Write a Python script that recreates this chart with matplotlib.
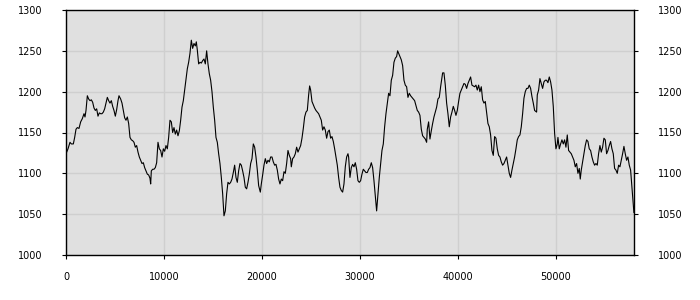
import matplotlib
matplotlib.use("Agg")
import matplotlib.pyplot as plt

# x positions
x = [0, 204, 408, 545, 749, 885, 1021, 1157, 1327, 1497, 1668, 1838, 1940, 2042, 2178, 2314, 2450, 2587, 2723, 2859,
     2995, 3131, 3267, 3403, 3540, 3676, 3812, 3948, 4084, 4220, 4356, 4492, 4629, 4765, 4901, 5037, 5173, 5309, 5411, 5582,
     5718, 5854, 5990, 6126, 6262, 6398, 6534, 6671, 6807, 6943, 7079, 7215, 7351, 7487, 7623, 7760, 7896, 8032, 8168, 8304,
     8440, 8576, 8645, 8712, 8849, 8985, 9121, 9257, 9393, 9530,
     9665, 9802, 9938, 10074, 10210, 10346, 10482, 10618, 10755, 10891, 11027, 11163, 11299, 11435, 11571, 11708, 11844, 11980, 12116, 12252,
     12388, 12524, 12660, 12797, 12933, 13069, 13205, 13307, 13409, 13545, 13681, 13818, 13954, 14090, 14226, 14362, 14498, 14634, 14770, 14907,
     15043, 15179, 15315, 15451, 15587, 15723, 15860, 15996, 16132, 16268, 16404, 16540, 16676, 16813, 16949, 17085, 17221, 17357, 17493, 17629,
     17765, 17902, 18038, 18174, 18310, 18446, 18582, 18718, 18855, 18991, 19127,
     19263, 19399, 19535, 19671, 19842, 19944, 20080, 20216, 20352, 20488, 20624, 20760, 20897, 21033, 21169, 21305, 21441, 21577, 21713, 21849,
     21986, 22122, 22258, 22394, 22530, 22666, 22802, 22938, 23007, 23143, 23279, 23415, 23551, 23687, 23823, 23960, 24096, 24232, 24368, 24504,
     24640, 24776, 24878, 24980, 25117, 25253, 25389, 25525, 25661, 25797, 25933, 26069, 26206, 26342, 26478, 26614, 26750, 26886, 27022, 27159,
     27295, 27431, 27567, 27703, 27839, 27975, 28111, 28248, 28384, 28520, 28656, 28792,
     28860, 28996, 29132, 29268, 29405, 29541, 29677, 29813, 29949, 30085, 30221, 30358, 30494, 30630, 30766, 30902, 31038, 31174, 31311, 31447,
     31583, 31719, 31855, 31991, 32127, 32264, 32400, 32536, 32672, 32808, 32944, 33080, 33217, 33353, 33489, 33625, 33761, 33863, 33965, 34101,
     34237, 34374, 34510, 34646, 34782, 34918, 35054, 35190, 35327, 35463, 35599, 35735, 35871, 36007, 36143, 36280, 36416, 36552, 36688, 36824,
     36892, 37028, 37164, 37300, 37437, 37573, 37709, 37845, 37981, 38117, 38253,
     38458, 38594, 38730, 38866, 39002, 39138, 39274, 39411, 39547, 39683, 39819, 39955, 40091, 40227, 40364, 40500, 40636, 40772, 40908, 41044,
     41180, 41316, 41453, 41589, 41725, 41861, 41997, 42133, 42269, 42406, 42542, 42678, 42814, 42950, 43086, 43222, 43358, 43495, 43631, 43767,
     43903, 44039, 44175, 44311, 44448, 44584, 44720, 44856, 44992, 45128, 45264, 45401, 45537, 45673, 45809, 45945, 46081, 46217, 46353, 46490,
     46626, 46762, 46898, 47034, 47170, 47306, 47443, 47579, 47715, 47851,
     48055, 48123, 48259, 48395, 48532, 48668, 48804, 48940, 49076, 49212, 49348, 49485, 49621, 49757, 49893, 50029, 50165, 50233, 50369, 50506,
     50642, 50778, 50914, 51050, 51186, 51322, 51458, 51595, 51731, 51867, 52003, 52139, 52275, 52411, 52513, 52615, 52752, 52888, 53024, 53160,
     53296, 53432, 53568, 53705, 53841, 53977, 54113, 54249, 54385, 54521, 54658, 54794, 54930, 55066, 55202, 55338, 55474, 55611, 55747, 55883,
     56019, 56155, 56291, 56427, 56564, 56700, 56836, 56972, 57108, 57244, 57380, 57516, 57653, 57789, 57925, 57990]

# y values
y = [1124, 1130, 1138, 1136, 1136, 1144, 1154, 1156, 1155, 1163, 1167, 1173, 1169, 1177, 1195, 1191, 1189, 1190, 1187, 1180,
     1177, 1179, 1170, 1174, 1173, 1173, 1175, 1179, 1186, 1193, 1189, 1186, 1189, 1182, 1177, 1170, 1178, 1189, 1195, 1191,
     1186, 1177, 1168, 1165, 1169, 1161, 1144, 1141, 1140, 1138, 1132, 1134, 1126, 1120, 1116, 1112, 1113, 1107, 1103, 1099,
     1098, 1094, 1087, 1103, 1105, 1105, 1107, 1113, 1138, 1130,
     1128, 1120, 1130, 1127, 1134, 1130, 1144, 1165, 1163, 1150, 1156, 1148, 1153, 1146, 1152, 1165, 1181, 1189, 1202, 1216,
     1228, 1236, 1247, 1263, 1253, 1259, 1256, 1261, 1251, 1234, 1236, 1235, 1238, 1240, 1234, 1250, 1234, 1222, 1214, 1200,
     1181, 1165, 1144, 1138, 1124, 1112, 1095, 1075, 1048, 1054, 1075, 1089, 1087, 1089, 1093, 1101, 1110, 1095, 1089, 1103,
     1112, 1110, 1103, 1095, 1083, 1081, 1089, 1099, 1112, 1118, 1136,
     1132, 1120, 1104, 1085, 1077, 1087, 1098, 1110, 1118, 1112, 1116, 1114, 1120, 1120, 1114, 1110, 1111, 1104, 1093, 1087,
     1093, 1091, 1102, 1100, 1112, 1128, 1122, 1118, 1108, 1118, 1120, 1124, 1132, 1126, 1130, 1134, 1143, 1155, 1169, 1175,
     1177, 1196, 1207, 1202, 1188, 1184, 1180, 1177, 1175, 1173, 1169, 1165, 1153, 1157, 1153, 1143, 1151, 1153, 1143, 1145,
     1139, 1130, 1120, 1110, 1095, 1083, 1079, 1077, 1087, 1108, 1120, 1124,
     1120, 1095, 1107, 1111, 1108, 1113, 1105, 1091, 1089, 1091, 1099, 1105, 1103, 1101, 1101, 1105, 1107, 1113, 1107, 1091,
     1072, 1054, 1075, 1095, 1111, 1128, 1136, 1157, 1173, 1185, 1198, 1195, 1214, 1220, 1236, 1241, 1243, 1250, 1247, 1243,
     1239, 1232, 1214, 1208, 1206, 1193, 1198, 1195, 1193, 1191, 1189, 1183, 1177, 1175, 1171, 1154, 1146, 1144, 1142, 1138,
     1154, 1163, 1142, 1152, 1161, 1169, 1175, 1181, 1191, 1193, 1206,
     1223, 1223, 1208, 1186, 1173, 1157, 1169, 1175, 1182, 1177, 1171, 1177, 1188, 1198, 1202, 1206, 1210, 1209, 1204, 1210,
     1214, 1218, 1208, 1207, 1206, 1208, 1202, 1208, 1200, 1206, 1190, 1186, 1188, 1175, 1161, 1157, 1147, 1128, 1122, 1145,
     1143, 1130, 1122, 1120, 1114, 1110, 1112, 1116, 1120, 1110, 1100, 1095, 1104, 1112, 1120, 1130, 1141, 1145, 1147, 1157,
     1173, 1192, 1200, 1204, 1204, 1208, 1204, 1194, 1186, 1177,
     1175, 1196, 1202, 1216, 1210, 1204, 1212, 1214, 1214, 1211, 1218, 1212, 1202, 1182, 1149, 1130, 1136, 1144, 1130, 1136,
     1141, 1136, 1141, 1132, 1147, 1128, 1126, 1124, 1120, 1116, 1108, 1112, 1100, 1106, 1093, 1104, 1114, 1124, 1134, 1141,
     1139, 1130, 1128, 1120, 1114, 1110, 1112, 1110, 1124, 1134, 1126, 1132, 1143, 1141, 1124, 1128, 1134, 1139, 1130, 1124,
     1106, 1104, 1100, 1110, 1108, 1116, 1124, 1133, 1124, 1116, 1120, 1110, 1104, 1083, 1063, 1052]

xticks = [0, 10000, 20000, 30000, 40000, 50000]
yticks = [1000, 1050, 1100, 1150, 1200, 1250, 1300]

fig = plt.figure(figsize=(7, 3), dpi=100)
ax = fig.add_axes([66/700, 45/300, 568/700, 245/300])
ax.set_facecolor('#e0e0e0')

ax.plot(x, y, color='black', linewidth=0.8)

ax.set_xlim(0, 58000)
ax.set_ylim(1000, 1300)
ax.set_xticks(xticks)
ax.set_yticks(yticks)
ax.grid(color='#cfcfcf', linewidth=1)
ax.set_axisbelow(True)

ax.tick_params(axis='x', length=3, pad=9, labelsize=7, direction='out')
ax.tick_params(axis='y', length=3, pad=14, labelsize=7, direction='out',
               left=True, right=True, labelleft=True, labelright=True)
for s in ax.spines.values():
    s.set_color('black')
    s.set_linewidth(1)

plt.savefig('out.png', dpi=100)
